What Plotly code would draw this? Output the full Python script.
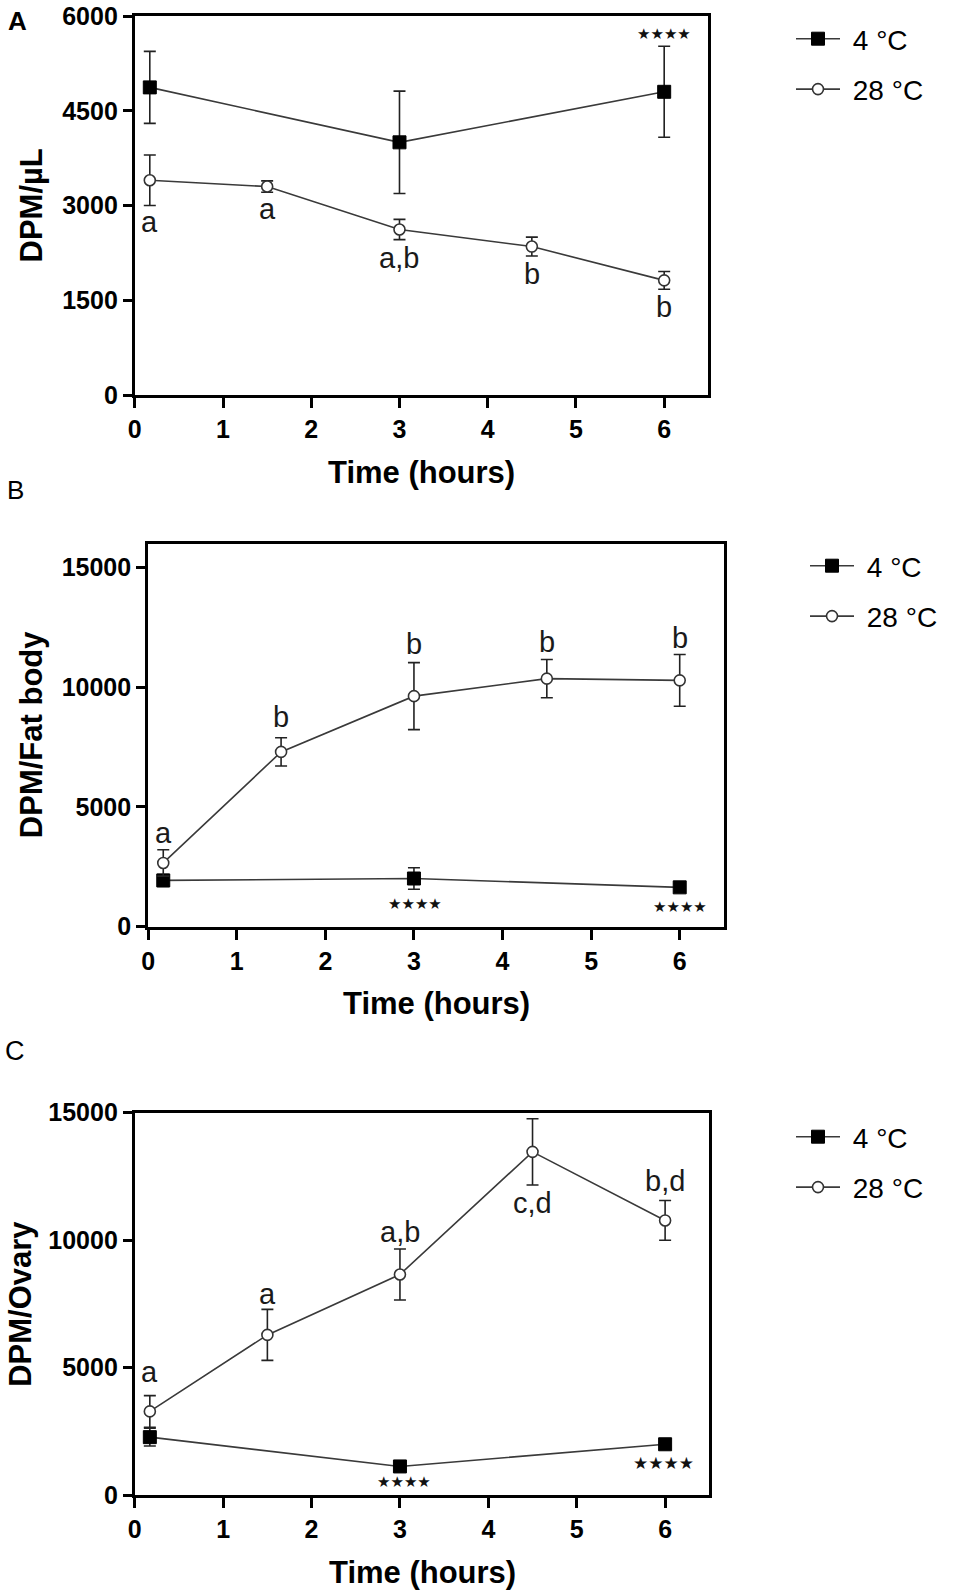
import plotly.graph_objects as go

# ---------------- data ----------------
time_4c = [0.17, 3, 6]
time_28c = [0.17, 1.5, 3, 4.5, 6]

a_4c = [4870, 4000, 4800]
a_4c_err = [570, 810, 720]
a_28c = [3400, 3300, 2620, 2350, 1815]
a_28c_err = [400, 90, 160, 150, 140]

b_4c = [1930, 2010, 1640]
b_4c_err = [250, 450, 150]
b_28c = [2660, 7300, 9630, 10360, 10290]
b_28c_err = [550, 590, 1400, 800, 1080]

c_4c = [2270, 1120, 1990]
c_4c_err = [350, 150, 150]
c_28c = [3280, 6280, 8650, 13460, 10770]
c_28c_err = [620, 1000, 1000, 1300, 780]

a_letters = ["a", "a", "a,b", "b", "b"]
b_letters = ["a", "b", "b", "b", "b"]
c_letters = ["a", "a", "a,b", "c,d", "b,d"]

a_star_idx = [2]          # index into time_4c
b_star_idx = [1, 2]
c_star_idx = [1, 2]
star_text = "★★★★"

x_ticks = [0, 1, 2, 3, 4, 5, 6]
a_y_ticks = [0, 1500, 3000, 4500, 6000]
b_y_ticks = [0, 5000, 10000, 15000]
c_y_ticks = [0, 5000, 10000, 15000]
series_names = ["4 °C", "28 °C"]
y_titles = ["DPM/µL", "DPM/Fat body", "DPM/Ovary"]
x_title = "Time (hours)"
panel_letters = ["A", "B", "C"]

# ---------------- layout / style ----------------
W, H = 955, 1596
FONT = "Arial, Liberation Sans, sans-serif"
LINE_COL = "#3a3a3a"
NB = "\u00a0"

def px_x(p):
    return p / W

def px_y(p):
    return 1 - p / H

panels = [
    dict(xd=[134.8, 708.3], yd=[395.0, 16.0], yr=[0, 6000], yt=a_y_ticks,
         ys=a_4c, yse=a_4c_err, yo=a_28c, yoe=a_28c_err,
         letters=a_letters, lshift=[-42, -22, -28, -27, -27],
         stars=a_star_idx, sshift=[58], ssize=[15],
         sdx=[0], legend_x=791, legend_y=14, ytitle_x=31),
    dict(xd=[148.2, 724.0], yd=[926.6, 543.7], yr=[0, 16000], yt=b_y_ticks,
         ys=b_4c, yse=b_4c_err, yo=b_28c, yoe=b_28c_err,
         letters=b_letters, lshift=[30, 35, 52, 37, 42],
         stars=b_star_idx, sshift=[-25, -20], ssize=[15, 15],
         sdx=[1, 0], legend_x=805, legend_y=541, ytitle_x=31),
    dict(xd=[134.8, 709.3], yd=[1495.0, 1112.6], yr=[0, 15000], yt=c_y_ticks,
         ys=c_4c, yse=c_4c_err, yo=c_28c, yoe=c_28c_err,
         letters=c_letters, lshift=[39, 41, 42, -51, 39],
         stars=c_star_idx, sshift=[-16, -19], ssize=[15, 17],
         sdx=[4, -2], legend_x=791, legend_y=1112, ytitle_x=21),
]
label_pos = [(17, 21, True, 26), (15, 490, False, 26), (15, 1051, False, 27)]

fig = go.Figure()
annotations = []
layout_axes = {}

for i, p in enumerate(panels):
    n = "" if i == 0 else str(i + 1)
    xa, ya = "x" + n, "y" + n
    leg = "legend" + n

    fig.add_trace(go.Scatter(
        x=time_4c, y=p["ys"], name=NB + series_names[0], xaxis=xa, yaxis=ya,
        mode="lines+markers", legend=leg, legendgroup="g4_" + str(i),
        line=dict(color=LINE_COL, width=1.6),
        marker=dict(symbol="square", size=13, color="black",
                    line=dict(color="black", width=1)),
        error_y=dict(type="data", array=p["yse"], visible=True,
                     color="#222222", thickness=1.6, width=6),
    ))
    fig.add_trace(go.Scatter(
        x=time_28c, y=p["yo"], name=NB + series_names[1], xaxis=xa, yaxis=ya,
        mode="lines+markers", legend=leg, legendgroup="g28_" + str(i),
        line=dict(color=LINE_COL, width=1.6),
        marker=dict(symbol="circle", size=11, color="white",
                    line=dict(color="#333333", width=1.6)),
        error_y=dict(type="data", array=p["yoe"], visible=True,
                     color="#222222", thickness=1.6, width=6),
    ))

    layout_axes["xaxis" + n] = dict(
        domain=[px_x(p["xd"][0]), px_x(p["xd"][1])], anchor=ya,
        range=[0, 6.5], tickvals=x_ticks, ticks="outside", ticklen=10,
        tickwidth=3, tickcolor="black", showline=True, linewidth=3,
        linecolor="black", mirror=True, showgrid=False, zeroline=False,
        ticklabeloverflow="allow",
        tickfont=dict(family=FONT, size=25, color="black", weight="bold"),
    )
    layout_axes["yaxis" + n] = dict(
        domain=[px_y(p["yd"][0]), px_y(p["yd"][1])], anchor=xa,
        range=p["yr"], tickvals=p["yt"], tickformat="d",
        ticks="outside", ticklen=9, ticklabeloverflow="allow",
        tickwidth=3, tickcolor="black", showline=True, linewidth=3,
        linecolor="black", mirror=True, showgrid=False, zeroline=False,
        tickfont=dict(family=FONT, size=25, color="black", weight="bold"),
    )
    layout_axes[leg] = dict(
        x=px_x(p["legend_x"]), y=px_y(p["legend_y"]), xanchor="left",
        yanchor="top", bgcolor="rgba(0,0,0,0)", itemwidth=44,
        tracegroupgap=11,
        font=dict(family=FONT, size=28, color="black"),
    )

    # letters above / below 28 °C points
    for t, v, lab, sh in zip(time_28c, p["yo"], p["letters"], p["lshift"]):
        annotations.append(dict(
            x=t, y=v, xref=xa, yref=ya, text=lab, showarrow=False,
            yshift=sh, font=dict(family=FONT, size=29, color="#1a1a1a"),
        ))
    # significance stars on 4 °C points
    for k, sh, ss, dx in zip(p["stars"], p["sshift"], p["ssize"], p["sdx"]):
        annotations.append(dict(
            x=time_4c[k], y=p["ys"][k], xref=xa, yref=ya, text=star_text,
            showarrow=False, yshift=sh, xshift=dx,
            font=dict(family="DejaVu Sans", size=ss, color="#111111"),
        ))
    # axis titles
    xc = (p["xd"][0] + p["xd"][1]) / 2
    annotations.append(dict(
        x=px_x(xc), y=px_y(p["yd"][0] + 77), xref="paper", yref="paper",
        text=x_title, showarrow=False, xanchor="center", yanchor="middle",
        font=dict(family=FONT, size=31, color="black", weight="bold"),
    ))
    yc = (p["yd"][0] + p["yd"][1]) / 2
    annotations.append(dict(
        x=px_x(p["ytitle_x"]), y=px_y(yc), xref="paper", yref="paper",
        text=y_titles[i], showarrow=False, textangle=-90,
        xanchor="center", yanchor="middle",
        font=dict(family=FONT, size=31, color="black", weight="bold"),
    ))
    lx, ly, lb, ls = label_pos[i]
    annotations.append(dict(
        x=px_x(lx), y=px_y(ly), xref="paper", yref="paper",
        text=panel_letters[i], showarrow=False, xanchor="center",
        yanchor="middle",
        font=dict(family=FONT, size=ls, color="black",
                  weight="bold" if lb else "normal"),
    ))

fig.update_layout(
    width=W, height=H, margin=dict(l=0, r=0, t=0, b=0, autoexpand=False),
    paper_bgcolor="white", plot_bgcolor="white",
    showlegend=True, annotations=annotations, **layout_axes,
)

fig.write_html("out.html", config={"displayModeBar": False})

# remove default page margin so the figure starts at the window's corner
with open("out.html", "r", encoding="utf-8") as f:
    html = f.read()
html = html.replace("<head>", "<head><style>html,body{margin:0;padding:0;overflow:hidden;}</style>", 1)
with open("out.html", "w", encoding="utf-8") as f:
    f.write(html)
